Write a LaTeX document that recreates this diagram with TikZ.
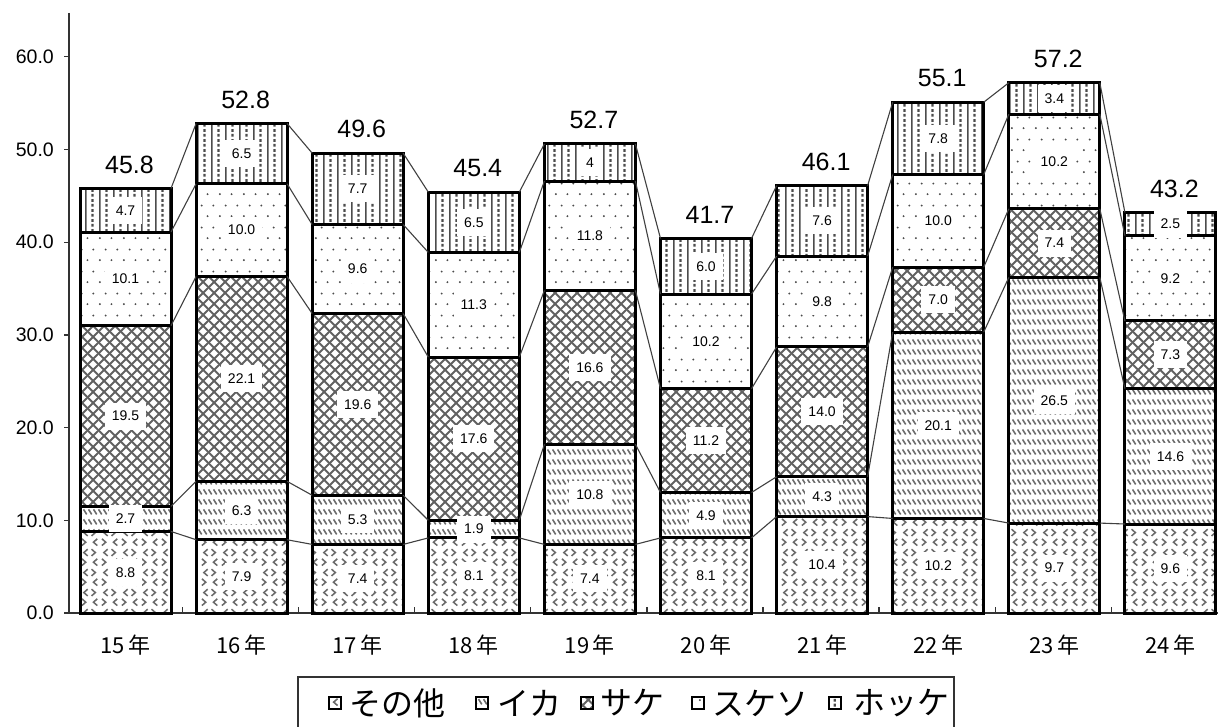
\documentclass[tikz,border=0pt]{standalone}
\usepackage{fontspec}
\setmainfont{Liberation Sans}
\newfontfamily\cjk{Noto Sans CJK JP}
\usetikzlibrary{patterns}
% crosshatch (Sake)
\pgfdeclarepatternformonly{sakepat}{\pgfpointorigin}{\pgfpoint{11pt}{11pt}}{\pgfpoint{11pt}{11pt}}{
  \pgfsetlinewidth{2.1pt}
  \pgfpathmoveto{\pgfpoint{-1pt}{-1pt}}\pgfpathlineto{\pgfpoint{12pt}{12pt}}
  \pgfpathmoveto{\pgfpoint{-1pt}{12pt}}\pgfpathlineto{\pgfpoint{12pt}{-1pt}}
  \pgfusepath{stroke}}
% short backslash strokes (Ika)
\pgfdeclarepatternformonly{ikapat}{\pgfpointorigin}{\pgfpoint{4.6pt}{10pt}}{\pgfpoint{4.6pt}{10pt}}{
  \pgfsetlinewidth{1.7pt}
  \pgfpathmoveto{\pgfpoint{0.6pt}{8.2pt}}\pgfpathlineto{\pgfpoint{4pt}{2.8pt}}
  \pgfusepath{stroke}}
% chevrons (Sonota)
\pgfdeclarepatternformonly{sonotapat}{\pgfpointorigin}{\pgfpoint{20pt}{20pt}}{\pgfpoint{20pt}{20pt}}{
  \pgfsetlinewidth{1.6pt}
  \pgfpathmoveto{\pgfpoint{8pt}{18.5pt}}\pgfpathlineto{\pgfpoint{4pt}{15pt}}\pgfpathlineto{\pgfpoint{8pt}{11.5pt}}
  \pgfpathmoveto{\pgfpoint{12pt}{18.5pt}}\pgfpathlineto{\pgfpoint{16pt}{15pt}}\pgfpathlineto{\pgfpoint{12pt}{11.5pt}}
  \pgfpathmoveto{\pgfpoint{2pt}{8.5pt}}\pgfpathlineto{\pgfpoint{6pt}{5pt}}\pgfpathlineto{\pgfpoint{2pt}{1.5pt}}
  \pgfpathmoveto{\pgfpoint{18pt}{8.5pt}}\pgfpathlineto{\pgfpoint{14pt}{5pt}}\pgfpathlineto{\pgfpoint{18pt}{1.5pt}}
  \pgfusepath{stroke}}
% sparse dots (Sukeso)
\pgfdeclarepatternformonly{sukesopat}{\pgfpointorigin}{\pgfpoint{24pt}{22pt}}{\pgfpoint{24pt}{22pt}}{
  \pgfpathcircle{\pgfpoint{4pt}{5pt}}{1.1pt}
  \pgfpathcircle{\pgfpoint{16pt}{5pt}}{1.1pt}
  \pgfpathcircle{\pgfpoint{10pt}{16pt}}{1.1pt}
  \pgfpathcircle{\pgfpoint{22pt}{16pt}}{1.1pt}
  \pgfusepath{fill}}
% vertical stripes (Hokke)
\pgfdeclarepatternformonly{hokkepat}{\pgfpointorigin}{\pgfpoint{14pt}{10pt}}{\pgfpoint{14pt}{10pt}}{
  \pgfsetlinewidth{1.6pt}
  \pgfpathmoveto{\pgfpoint{2pt}{-1pt}}\pgfpathlineto{\pgfpoint{2pt}{11pt}}
  \pgfusepath{stroke}
  \pgfsetlinewidth{2.4pt}
  \pgfpathmoveto{\pgfpoint{9pt}{0.5pt}}\pgfpathlineto{\pgfpoint{9pt}{3.5pt}}
  \pgfpathmoveto{\pgfpoint{9pt}{5.5pt}}\pgfpathlineto{\pgfpoint{9pt}{8.5pt}}
  \pgfusepath{stroke}}
\begin{document}
\begin{tikzpicture}[x=1pt,y=-1pt,
  barbox/.style={draw=black, line width=3pt},
  conn/.style={draw=black!75, line width=1.1pt},
  axisline/.style={draw=black!80, line width=1.3pt},
  val/.style={fill=white, font=\fontsize{14}{14}\selectfont, inner xsep=7pt, inner ysep=2pt, minimum height=27pt},
  tot/.style={font=\fontsize{25}{25}\selectfont},
  ytick/.style={anchor=east, font=\fontsize{19.5}{19.5}\selectfont, inner sep=0pt},
  xlab/.style={font=\cjk\fontsize{22}{22}\selectfont},
  leg/.style={anchor=west, font=\cjk\fontsize{32}{32}\selectfont, inner sep=0pt},
  legmark/.style={draw=black, line width=1.2pt, minimum size=12pt, inner sep=0pt},
  pA/.style={pattern=sonotapat, pattern color=black!58},
  pB/.style={pattern=ikapat, pattern color=black!58},
  pC/.style={pattern=sakepat, pattern color=black!62},
  pD/.style={pattern=sukesopat, pattern color=black!70},
  pE/.style={pattern=hokkepat, pattern color=black!70}]
\useasboundingbox (0,0) rectangle (1218,727);
% axes
\draw[axisline] (69,13) -- (69,613);
\draw[axisline] (64,613) -- (1218,613);
\foreach \k/\lab in {0/0.0,1/10.0,2/20.0,3/30.0,4/40.0,5/50.0,6/60.0}{
  \pgfmathsetmacro\yy{613-10*\k*9.27}
  \draw[axisline] (64,\yy) -- (69,\yy);
  \node[ytick] (yt\k) at (54,\yy) {\lab};
}
\foreach \k in {0,...,8}{
  \pgfmathsetmacro\xx{182.5+116.1*\k}
  \draw[axisline] (\xx,613) -- (\xx,607);
}
% bars
\foreach \i/\yr/\a/\b/\c/\d/\e/\t in {
 0/15/8.8/2.7/19.5/10.1/4.7/45.8,
 1/16/7.9/6.3/22.1/10.0/6.5/52.8,
 2/17/7.4/5.3/19.6/9.6/7.7/49.6,
 3/18/8.1/1.9/17.6/11.3/6.5/45.4,
 4/19/7.4/10.8/16.6/11.8/4/52.7,
 5/20/8.1/4.9/11.2/10.2/6.0/41.7,
 6/21/10.4/4.3/14.0/9.8/7.6/46.1,
 7/22/10.2/20.1/7.0/10.0/7.8/55.1,
 8/23/9.7/26.5/7.4/10.2/3.4/57.2,
 9/24/9.6/14.6/7.3/9.2/2.5/43.2}{
  \pgfmathsetmacro\xl{80+116.1*\i}
  \pgfmathsetmacro\xr{\xl+91}
  \pgfmathsetmacro\xc{\xl+45.5}
  \pgfmathsetmacro\ya{613-\a*9.27}
  \pgfmathsetmacro\yb{\ya-\b*9.27}
  \pgfmathsetmacro\yc{\yb-\c*9.27}
  \pgfmathsetmacro\yd{\yc-\d*9.27}
  \pgfmathsetmacro\ye{\yd-\e*9.27}
  \fill[pA] (\xl,613) rectangle (\xr,\ya);
  \fill[pB] (\xl,\ya) rectangle (\xr,\yb);
  \fill[pC] (\xl,\yb) rectangle (\xr,\yc);
  \fill[pD] (\xl,\yc) rectangle (\xr,\yd);
  \fill[pE] (\xl,\yd) rectangle (\xr,\ye);
  \coordinate (L\i-1) at (\xl,\ya); \coordinate (R\i-1) at (\xr,\ya);
  \coordinate (L\i-2) at (\xl,\yb); \coordinate (R\i-2) at (\xr,\yb);
  \coordinate (L\i-3) at (\xl,\yc); \coordinate (R\i-3) at (\xr,\yc);
  \coordinate (L\i-4) at (\xl,\yd); \coordinate (R\i-4) at (\xr,\yd);
  \coordinate (L\i-5) at (\xl,\ye); \coordinate (R\i-5) at (\xr,\ye);
  \draw[barbox] (\xl,613) rectangle (\xr,\ye);
  \draw[barbox] (L\i-1) -- (R\i-1) (L\i-2) -- (R\i-2) (L\i-3) -- (R\i-3) (L\i-4) -- (R\i-4);
  \node[val] (v\i-1) at (\xc,{(613+\ya)/2}) {\a};
  \node[val] (v\i-2) at (\xc,{(\ya+\yb)/2}) {\b};
  \node[val] (v\i-3) at (\xc,{(\yb+\yc)/2}) {\c};
  \node[val] (v\i-4) at (\xc,{(\yc+\yd)/2}) {\d};
  \node[val] (v\i-5) at (\xc,{(\yd+\ye)/2}) {\e};
  \node[tot] (tot\i) at (\xc+4,\ye-24) {\t};
  \node[xlab] (x\i) at (\xc,645) {\yr\,年};
}
% connectors between bars
\foreach \i in {0,...,8}{
  \pgfmathtruncatemacro\j{\i+1}
  \foreach \k in {1,...,5}{
    \draw[conn] (R\i-\k) -- (L\j-\k);
  }
}
% legend
\draw[black!80, line width=1.3pt] (298,740) -- (298,677) -- (954,677) -- (954,740);
\node[legmark, pA] (m1) at (335,703) {};
\node[leg] (g1) at (349,703) {その他};
\node[legmark, pB] (m2) at (482,703) {};
\node[leg] (g2) at (497,703) {イカ};
\node[legmark, pC] (m3) at (587,703) {};
\node[leg] (g3) at (600,703) {サケ};
\node[legmark, pD] (m4) at (698,703) {};
\node[leg] (g4) at (712,703) {スケソ};
\node[legmark, pE] (m5) at (835,703) {};
\node[leg] (g5) at (853,703) {ホッケ};
\end{tikzpicture}
\end{document}
